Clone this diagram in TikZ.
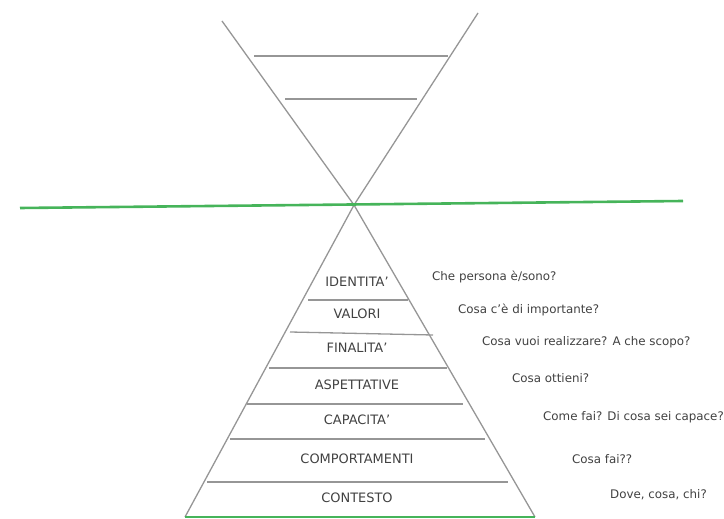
\documentclass[tikz,border=0pt]{standalone}
\usepackage{fontspec}
\setmainfont{DejaVu Sans}
\definecolor{linegray}{RGB}{150,150,150}
\definecolor{txtgray}{RGB}{65,65,65}
\definecolor{lgreen}{RGB}{70,180,90}
\begin{document}
\begin{tikzpicture}[x=1bp,y=-1bp,
  gline/.style={draw=linegray,line width=1.3bp},
  grn/.style={draw=lgreen,line width=2.6bp},
  lvl/.style={font=\fontsize{13}{15}\selectfont,text=txtgray,inner sep=0pt,anchor=center},
  qst/.style={font=\fontsize{11.9}{14}\selectfont,text=txtgray,inner sep=0pt,anchor=west}]
\useasboundingbox (0,0) rectangle (724,519);
% top V
\coordinate (vl) at (222,21);
\coordinate (vr) at (478,13);
\coordinate (apex) at (354,205);
\draw[gline] (vl) -- (apex) -- (vr);
\coordinate (t1a) at (254,56); \coordinate (t1b) at (448,56);
\coordinate (t2a) at (285,99); \coordinate (t2b) at (417,99);
\draw[gline] (t1a) -- (t1b);
\draw[gline] (t2a) -- (t2b);
% pyramid
\coordinate (bl) at (185,517);
\coordinate (br) at (535,517);
\draw[gline] (bl) -- (apex) -- (br);
\coordinate (h1a) at (308,300); \coordinate (h1b) at (408,300);
\coordinate (h2a) at (290,332); \coordinate (h2b) at (433,335);
\coordinate (h3a) at (269,368); \coordinate (h3b) at (447,368);
\coordinate (h4a) at (247,404); \coordinate (h4b) at (463,404);
\coordinate (h5a) at (230,439); \coordinate (h5b) at (485,439);
\coordinate (h6a) at (207,482); \coordinate (h6b) at (508,482);
\foreach \i in {1,...,6} \draw[gline] (h\i a) -- (h\i b);
\draw[grn] (bl) -- (br);
% green horizon
\coordinate (gl) at (20,208);
\coordinate (gr) at (683,201);
\draw[grn] (gl) -- (gr);
% level labels
\node[lvl] (l1) at (357,282) {IDENTITA’};
\node[lvl] (l2) at (357,314) {VALORI};
\node[lvl] (l3) at (357,348) {FINALITA’};
\node[lvl] (l4) at (357,385) {ASPETTATIVE};
\node[lvl] (l5) at (357,420) {CAPACITA’};
\node[lvl] (l6) at (357,459) {COMPORTAMENTI};
\node[lvl] (l7) at (357,498) {CONTESTO};
% questions
\node[qst] (q1) at (432,277) {Che persona è/sono?};
\node[qst] (q2) at (458,310) {Cosa c’è di importante?};
\node[qst] (q3) at (482,342) {Cosa vuoi realizzare? A che scopo?};
\node[qst] (q4) at (512,378) {Cosa ottieni?};
\node[qst] (q5) at (543,417) {Come fai? Di cosa sei capace?};
\node[qst] (q6) at (572,459) {Cosa fai??};
\node[qst] (q7) at (610,495) {Dove, cosa, chi?};
\end{tikzpicture}
\end{document}
